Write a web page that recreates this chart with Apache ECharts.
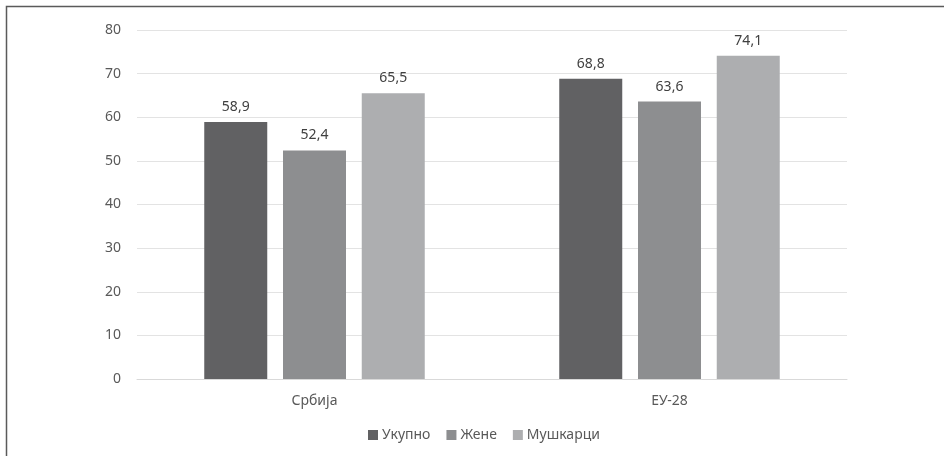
<!DOCTYPE html>
<html>
<head>
<meta charset="utf-8">
<script src="https://cdn.jsdelivr.net/npm/echarts@6/dist/echarts.min.js"></script>
<style>
  html, body { margin: 0; padding: 0; background: #fff; }
  #chart { width: 944px; height: 456px; }
</style>
</head>
<body>
<div id="chart"></div>
<script>
// Categories and series values
const categories = ['Србија', 'ЕУ-28'];
const seriesNames = ['Укупно', 'Жене', 'Мушкарци'];
const ukupno = [58.9, 68.8];
const zene = [52.4, 63.6];
const muskarci = [65.5, 74.1];
const yTicks = { min: 0, max: 80, interval: 10 };

const colors = ['#616163', '#8d8e90', '#adaeb0'];
const font = 'Noto Sans, sans-serif';
const fmt = v => String(v).replace('.', ',');

const chart = echarts.init(document.getElementById('chart'), null, { renderer: 'canvas' });

function barSeries(name, data, color) {
  return {
    name: name,
    type: 'bar',
    data: data,
    barWidth: 63,
    barGap: '25%',
    itemStyle: { color: color },
    label: {
      show: true,
      position: 'top',
      distance: 8,
      color: '#404040',
      fontFamily: font,
      fontSize: 14,
      formatter: p => fmt(p.value)
    }
  };
}

chart.setOption({
  animation: false,
  backgroundColor: '#ffffff',
  textStyle: { fontFamily: font },
  graphic: [{
    type: 'rect',
    shape: { x: 6.5, y: 6.5, width: 960, height: 470 },
    style: { fill: null, stroke: '#5a5a5a', lineWidth: 1.5 },
    silent: true
  }],
  grid: { left: 137, right: 97, top: 30, bottom: 77, containLabel: false },
  legend: {
    data: seriesNames,
    bottom: 9,
    left: 363,
    icon: 'rect',
    itemWidth: 10,
    itemHeight: 10,
    itemGap: 16,
    textStyle: { color: '#595959', fontSize: 14, fontFamily: font, padding: [0, 0, 0, -1] }
  },
  xAxis: {
    type: 'category',
    data: categories,
    axisLine: { show: true, lineStyle: { color: '#d9d9d9', width: 1 } },
    axisTick: { show: false },
    axisLabel: { color: '#595959', fontSize: 14, fontFamily: font, margin: 15 }
  },
  yAxis: {
    type: 'value',
    min: yTicks.min,
    max: yTicks.max,
    interval: yTicks.interval,
    axisLine: { show: false },
    axisTick: { show: false },
    axisLabel: { color: '#595959', fontSize: 14, fontFamily: font, margin: 16 },
    splitLine: { lineStyle: { color: '#e3e3e3', width: 1 } }
  },
  series: [
    barSeries(seriesNames[0], ukupno, colors[0]),
    barSeries(seriesNames[1], zene, colors[1]),
    barSeries(seriesNames[2], muskarci, colors[2])
  ]
});
</script>
</body>
</html>
